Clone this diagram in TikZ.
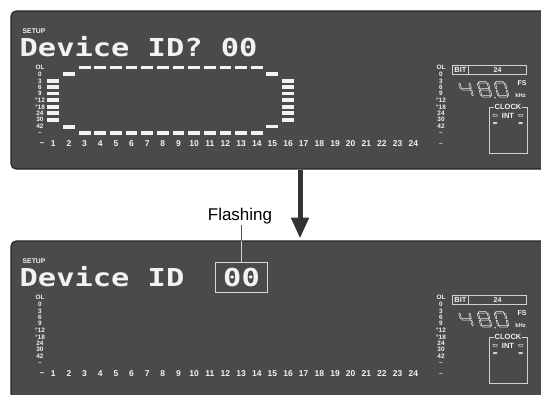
\documentclass[tikz,border=0pt]{standalone}
\usepackage{fontspec}
\usepackage{graphicx}
\usetikzlibrary{arrows.meta}
\setmainfont{Liberation Sans}
\newfontfamily\pixfont{DejaVu Sans Mono}
\definecolor{panel}{HTML}{4A4A4A}
\definecolor{frame}{HTML}{262626}
\definecolor{lcd}{HTML}{F2F2F2}
\definecolor{dim}{HTML}{D0D0D0}
\definecolor{arrowc}{HTML}{333333}
\newcommand\fsz[1]{\fontsize{#1}{#1}\selectfont}
\newcommand\pixtext[1]{\scalebox{1.23}[1]{\fontsize{24.7}{28}\selectfont\pixfont\bfseries #1}}
\newcommand\hsegm[3]{\draw[segline] (#1,#3) -- ++(0.7,0.7) -- (#2-0.7,#3+0.7) -- (#2,#3) -- (#2-0.7,#3-0.7) -- (#1+0.7,#3-0.7) -- cycle;}
\newcommand\vsegm[3]{\draw[segline] (#1,#2) -- ++(0.7,0.7) -- (#1+0.7,#3-0.7) -- (#1,#3) -- (#1-0.7,#3-0.7) -- (#1-0.7,#2+0.7) -- cycle;}
\newcommand\segA{\hsegm{1.3}{9.9}{14.6}}
\newcommand\segG{\hsegm{1.3}{9.9}{7.6}}
\newcommand\segD{\hsegm{1.3}{9.9}{0.6}}
\newcommand\segF{\vsegm{0.6}{8.3}{13.9}}
\newcommand\segE{\vsegm{0.6}{1.3}{6.9}}
\newcommand\segB{\vsegm{10.6}{8.3}{13.9}}
\newcommand\segC{\vsegm{10.6}{1.3}{6.9}}
\newcommand\chx[1]{53.3+15.65*(#1-1)}
\newcommand\lcdpanel[2]{%
\begin{scope}[shift={(0,#1)}]
  \draw[panelframe] (11,11) rectangle (600,169);
  \node[setup, anchor=west] (#2setup) at (22.5,31.3) {SETUP};
  % left scale
  \foreach \t/\yy [count=\i] in {OL/67.6, 0/74.2, 3/80.8, 6/86.9, 9/93.6, °12/100.2, °18/106.8, 24/113.2, 30/119.6, 42/126.7, –/133.3}
    \node[scl] (#2ls\i) at (40,\yy) {\t};
  % right scale
  \foreach \t/\yy [count=\i] in {OL/67.6, 0/74.2, 3/80.8, 6/86.9, 9/93.6, °12/100.2, °18/106.8, 24/113.2, 30/119.6, 42/126.7, –/133.3, –/144}
    \node[scl] (#2rs\i) at (441,\yy) {\t};
  % channel numbers
  \node[chn] (#2cm) at (42,144) {–};
  \foreach \k in {1,...,24}
    \node[chn] (#2c\k) at ({\chx{\k}},144) {\k};
  % BIT box
  \node[lcdbox, minimum width=74pt, minimum height=9.5pt] (#2bit) at (489,70) {};
  \draw[dim, line width=0.8] ([xshift=17pt]#2bit.north west) -- ([xshift=17pt]#2bit.south west);
  \node[small, font=\fsz{7.5}\bfseries] (#2bitl) at (460.5,70.3) {BIT};
  \node[small, font=\fsz{7}\bfseries] (#2bitv) at (497.5,70.3) {24};
  % 48.0 digits
  \begin{scope}[shift={(462.5,97)}, yscale=-1, xslant=0.27]
    \segF\segG\segB\segC
  \end{scope}
  \begin{scope}[shift={(481,97)}, yscale=-1, xslant=0.27]
    \segA\segB\segC\segD\segE\segF\segG
    \fill[lcd] (13.9,-0.7) circle (0.8);
  \end{scope}
  \begin{scope}[shift={(498,97)}, yscale=-1, xslant=0.27]
    \segA\segB\segC\segD\segE\segF
  \end{scope}
  \node[small, font=\fsz{7}\bfseries] (#2fs) at (522,83.5) {FS};
  \node[small, font=\fsz{5.8}\bfseries] (#2khz) at (520.5,95.5) {kHz};
  % CLOCK box
  \node[lcdbox, minimum width=38pt, minimum height=46pt] (#2clk) at (508,130) {};
  \node[small, fill=panel, inner xsep=0.8pt, font=\fsz{7.5}\bfseries] (#2clkl) at (#2clk.north) {CLOCK};
  \node[small, font=\fsz{7.5}\bfseries] (#2int) at (508,116.3) {INT};
  \draw[dim, line width=0.6, rounded corners=0.7] (493,114.4) rectangle (497.4,116.4);
  \draw[dim, line width=0.6, rounded corners=0.7] (518.4,114.4) rectangle (522.8,116.4);
  \fill[dim, rounded corners=0.7] (493,122) rectangle (497.4,124);
  \fill[dim, rounded corners=0.7] (518.4,122) rectangle (522.8,124);
\end{scope}}
\begin{document}
\begin{tikzpicture}[x=1pt,y=-1pt,
  panelframe/.style={fill=panel, draw=frame, line width=1.1, rounded corners=5},
  setup/.style={font=\fsz{6.8}\bfseries, text=lcd, inner sep=0},
  scl/.style={font=\fsz{6.4}\bfseries, text=lcd, inner sep=0},
  chn/.style={font=\fsz{8.5}\bfseries, text=lcd, inner sep=0},
  small/.style={text=lcd, inner sep=0},
  lcdbox/.style={draw=dim, line width=0.8, inner sep=0},
  segline/.style={draw=lcd, line width=0.45, line join=miter},
  bar/.style={fill=lcd},
  flashbox/.style={draw=dim!85, line width=1, inner sep=0, minimum width=51.6pt, minimum height=30pt, text=lcd},
  callout/.style={font=\fsz{17}, text=black, inner sep=1pt}]
\useasboundingbox (0,0) rectangle (541,394);
\clip (0,0) rectangle (541,394);
% ---------- top panel ----------
\lcdpanel{0}{t}
\node[anchor=base west, text=lcd, inner sep=0] (ttitle) at (19.5,56.5) {\pixtext{Device ID? 00}};
% bar meter pattern
\foreach \k in {3,...,14} {
  \fill[bar] ({\chx{\k}-5.9},65.8) rectangle ++(11.8,3.6);
  \fill[bar] ({\chx{\k}-5.9},131.4) rectangle ++(11.8,3.8);
}
\fill[bar] ({\chx{2}-6},72.3) rectangle ++(12,3.7);
\fill[bar] ({\chx{15}-6},72.3) rectangle ++(12,3.7);
\fill[bar] ({\chx{2}-6},125) rectangle ++(12,3.8);
\fill[bar] ({\chx{15}-6},124.5) rectangle ++(12,3.8);
\foreach \yy in {81,87.3,93.6,100.1,106.8,113.3,119.8} {
  \fill[bar] ({\chx{1}-6},\yy-1.85) rectangle ++(12,3.7);
  \fill[bar] ({\chx{16}-6},\yy-1.85) rectangle ++(12,3.7);
}
% ---------- arrow ----------
\coordinate (astart) at (300,170);
\coordinate (aend) at (300,238.5);
\draw[arrowc, line width=5, -{Triangle[length=21pt,width=17pt]}] (astart) -- (aend);
% ---------- bottom panel ----------
\lcdpanel{230}{b}
\node[anchor=base west, text=lcd, inner sep=0] (btitle) at (19.5,286.5) {\pixtext{Device ID}};
\node[flashbox] (fbox) at (241.5,277.3) {\pixtext{00}};
% ---------- callout ----------
\node[callout, anchor=base] (flash) at (240,220) {Flashing};
\coordinate (pedge) at (241.5,240.5);
\draw[arrowc!85, line width=0.8] (flash.south -| fbox.north) -- (pedge);
\draw[dim, line width=0.8] (pedge) -- (fbox.north);
\end{tikzpicture}
\end{document}
